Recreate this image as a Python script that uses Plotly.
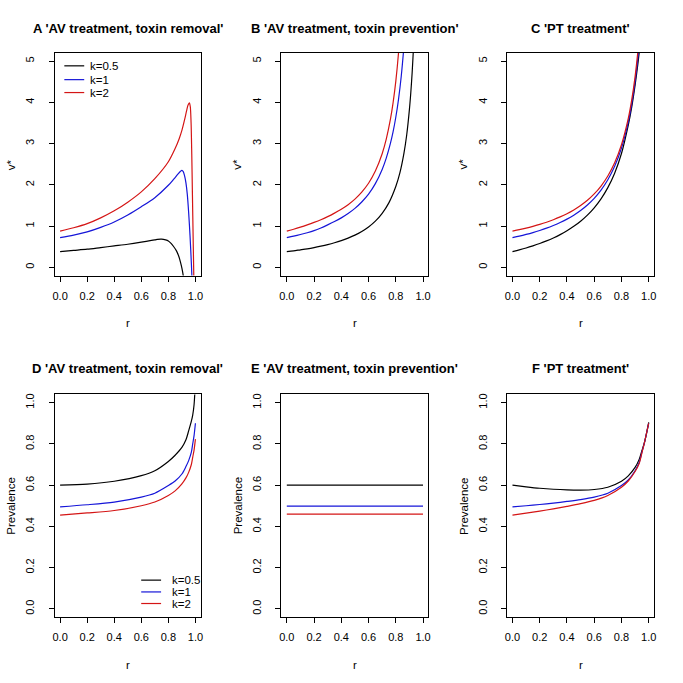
import plotly.graph_objects as go

W = H = 683

# ---------------- data ----------------
k_labels = ["k=0.5", "k=1", "k=2"]
colors = ["#000000", "#1515d8", "#d41515"]

# Panel A: AV treatment, toxin removal  (v*)
A_r05 = [0, 0.1, 0.2, 0.3, 0.4, 0.5, 0.6, 0.7, 0.72, 0.75, 0.78, 0.8, 0.82, 0.84, 0.86, 0.88, 0.89, 0.9, 0.91, 0.92]
A_v05 = [0.38, 0.41, 0.44, 0.48, 0.52, 0.56, 0.61, 0.665, 0.68, 0.685, 0.665, 0.64, 0.58, 0.50, 0.40, 0.24, 0.12, -0.02, -0.20, -0.45]
A_r1 = [0, 0.1, 0.2, 0.3, 0.4, 0.5, 0.6, 0.7, 0.8, 0.84, 0.87, 0.89, 0.9, 0.91, 0.92, 0.93, 0.94, 0.95, 0.96, 0.97, 0.98]
A_v1 = [0.72, 0.78, 0.86, 0.97, 1.10, 1.27, 1.47, 1.69, 1.99, 2.14, 2.26, 2.33, 2.35, 2.32, 2.22, 2.05, 1.77, 1.33, 0.78, 0.10, -0.70]
A_r2 = [0, 0.1, 0.2, 0.3, 0.4, 0.5, 0.6, 0.7, 0.8, 0.85, 0.88, 0.9, 0.92, 0.935, 0.945, 0.955, 0.962, 0.968, 0.973, 0.978, 0.983, 0.988, 0.993]
A_v2 = [0.88, 0.96, 1.06, 1.20, 1.37, 1.58, 1.83, 2.15, 2.56, 2.88, 3.12, 3.32, 3.58, 3.80, 3.93, 3.99, 3.90, 3.50, 2.75, 1.75, 0.74, -0.20, -1.20]

# Panel B: AV treatment, toxin prevention (v*)
B_r05 = [0, 0.05, 0.1, 0.15, 0.2, 0.25, 0.3, 0.35, 0.4, 0.45, 0.5, 0.55, 0.6, 0.65, 0.7, 0.75, 0.8, 0.83, 0.86, 0.88, 0.9, 0.91, 0.92, 0.93, 0.94]
B_v05 = [0.38, 0.40, 0.425, 0.45, 0.48, 0.515, 0.553, 0.597, 0.648, 0.709, 0.781, 0.87, 0.98, 1.12, 1.31, 1.57, 1.96, 2.29, 2.77, 3.21, 3.83, 4.23, 4.72, 5.34, 6.15]
B_r1 = [0, 0.05, 0.1, 0.15, 0.2, 0.25, 0.3, 0.35, 0.4, 0.45, 0.5, 0.55, 0.6, 0.65, 0.7, 0.73, 0.76, 0.78, 0.8, 0.82, 0.84, 0.86, 0.87]
B_v1 = [0.72, 0.756, 0.796, 0.84, 0.891, 0.955, 1.03, 1.11, 1.20, 1.305, 1.43, 1.585, 1.775, 2.03, 2.375, 2.65, 3.0, 3.285, 3.64, 4.075, 4.635, 5.375, 5.84]
B_r2 = [0, 0.05, 0.1, 0.15, 0.2, 0.25, 0.3, 0.35, 0.4, 0.45, 0.5, 0.55, 0.6, 0.65, 0.7, 0.73, 0.76, 0.78, 0.8, 0.82, 0.84]
B_v2 = [0.88, 0.925, 0.975, 1.03, 1.09, 1.155, 1.23, 1.315, 1.41, 1.52, 1.655, 1.825, 2.04, 2.335, 2.755, 3.11, 3.58, 3.99, 4.51, 5.2, 6.15]

# Panel C: PT treatment (v*)
C_r = [0, 0.05, 0.1, 0.15, 0.2, 0.25, 0.3, 0.35, 0.4, 0.45, 0.5, 0.55, 0.6, 0.65, 0.7, 0.75, 0.8, 0.85, 0.875, 0.9, 0.92, 0.94]
C_v05 = [0.38, 0.423, 0.469, 0.52, 0.577, 0.641, 0.713, 0.794, 0.887, 0.994, 1.119, 1.267, 1.445, 1.662, 1.934, 2.284, 2.76, 3.45, 3.88, 4.42, 4.92, 5.5]
C_v1 = [0.72, 0.757, 0.798, 0.843, 0.894, 0.95, 1.014, 1.086, 1.169, 1.265, 1.378, 1.512, 1.673, 1.872, 2.123, 2.449, 2.89, 3.52, 3.95, 4.50, 5.06, 5.78]
C_v2 = [0.88, 0.914, 0.952, 0.995, 1.042, 1.095, 1.155, 1.223, 1.301, 1.392, 1.499, 1.626, 1.781, 1.972, 2.216, 2.535, 2.973, 3.611, 4.054, 4.626, 5.223, 6.0]

# Panel D: AV treatment, toxin removal (prevalence)
D_r = [0, 0.2, 0.4, 0.6, 0.7, 0.8, 0.85, 0.9, 0.93, 0.95, 0.97, 0.98, 0.99, 1.0]
D_p05 = [0.600, 0.605, 0.619, 0.646, 0.670, 0.715, 0.745, 0.783, 0.820, 0.863, 0.910, 0.940, 0.990, 1.100]
D_p1 = [0.495, 0.505, 0.518, 0.542, 0.561, 0.598, 0.620, 0.654, 0.690, 0.719, 0.760, 0.800, 0.840, 0.900]
D_p2 = [0.455, 0.465, 0.477, 0.500, 0.518, 0.550, 0.572, 0.606, 0.635, 0.662, 0.700, 0.735, 0.770, 0.823]

# Panel E: AV treatment, toxin prevention (prevalence)
E_r = [0, 1]
E_p05 = [0.600, 0.600]
E_p1 = [0.498, 0.498]
E_p2 = [0.459, 0.459]

# Panel F: PT treatment (prevalence)
F_r = [0, 0.1, 0.2, 0.3, 0.4, 0.5, 0.6, 0.7, 0.8, 0.85, 0.9, 0.93, 0.95, 0.97, 0.99, 1.0]
F_p05 = [0.600, 0.592, 0.585, 0.580, 0.577, 0.576, 0.579, 0.590, 0.619, 0.645, 0.686, 0.725, 0.767, 0.810, 0.870, 0.904]
F_p1 = [0.495, 0.500, 0.506, 0.513, 0.521, 0.530, 0.542, 0.561, 0.598, 0.625, 0.670, 0.710, 0.759, 0.810, 0.870, 0.900]
F_p2 = [0.455, 0.464, 0.474, 0.485, 0.497, 0.510, 0.526, 0.550, 0.590, 0.620, 0.666, 0.705, 0.756, 0.810, 0.870, 0.900]

titles = ["A 'AV treatment, toxin removal'", "B 'AV treatment, toxin prevention'", "C 'PT treatment'",
          "D 'AV treatment, toxin removal'", "E 'AV treatment, toxin prevention'", "F 'PT treatment'"]
x_ticks = [0, 0.2, 0.4, 0.6, 0.8, 1.0]
x_ticktext = ["0.0", "0.2", "0.4", "0.6", "0.8", "1.0"]
v_ticks = [0, 1, 2, 3, 4, 5]
v_ticktext = ["0", "1", "2", "3", "4", "5"]
p_ticks = [0, 0.2, 0.4, 0.6, 0.8, 1.0]
p_ticktext = ["0.0", "0.2", "0.4", "0.6", "0.8", "1.0"]

panels = [
    [(A_r05, A_v05), (A_r1, A_v1), (A_r2, A_v2)],
    [(B_r05, B_v05), (B_r1, B_v1), (B_r2, B_v2)],
    [(C_r, C_v05), (C_r, C_v1), (C_r, C_v2)],
    [(D_r, D_p05), (D_r, D_p1), (D_r, D_p2)],
    [(E_r, E_p05), (E_r, E_p1), (E_r, E_p2)],
    [(F_r, F_p05), (F_r, F_p1), (F_r, F_p2)],
]

# ---------------- layout geometry (pixels) ----------------
col_px = [(53, 200), (281, 429), (508, 656)]
row_px = [(52, 275), (394, 617)]

FONT = "Liberation Sans, Arial, Helvetica, sans-serif"
fig = go.Figure()
layout = dict(width=W, height=H, margin=dict(l=0, r=0, t=0, b=0),
              paper_bgcolor="white", plot_bgcolor="white", showlegend=False,
              font=dict(family=FONT, size=11, color="black"))
annotations = []
shapes = []

for i, series in enumerate(panels):
    row, col = divmod(i, 3)
    n = i + 1
    xa = "x" if n == 1 else f"x{n}"
    ya = "y" if n == 1 else f"y{n}"
    for (rr, vv), c, lab in zip(series, colors, k_labels):
        fig.add_trace(go.Scatter(x=rr, y=vv, mode="lines", name=lab,
                                 line=dict(color=c, width=1.2, shape="spline", smoothing=0.8),
                                 xaxis=xa, yaxis=ya, hoverinfo="skip"))
    x0, x1 = col_px[col]
    y0, y1 = row_px[row]
    common = dict(showline=True, mirror=True, linecolor="black", linewidth=1,
                  ticks="outside", ticklen=5, tickwidth=1, tickcolor="black",
                  showgrid=False, zeroline=False, tickfont=dict(size=11, family=FONT))
    layout["xaxis" if n == 1 else f"xaxis{n}"] = dict(
        domain=[x0 / W, x1 / W], range=[-0.04, 1.04], tickvals=x_ticks, ticktext=x_ticktext,
        anchor=ya, ticklabelstandoff=5, **common)
    if row == 0:
        yr, tv, tt = [-0.2, 5.2], v_ticks, v_ticktext
    else:
        yr, tv, tt = [-0.04, 1.04], p_ticks, p_ticktext
    layout["yaxis" if n == 1 else f"yaxis{n}"] = dict(
        domain=[1 - y1 / H, 1 - y0 / H], range=yr, tickvals=tv, ticktext=tt,
        anchor=xa, tickangle=-90, ticklabelstandoff=10, **common)
    # panel title
    annotations.append(dict(text=titles[i], xref="paper", yref="paper",
                            x=(x0 + x1) / 2 / W, y=1 - (28 + row * 340.5) / H,
                            xanchor="center", yanchor="middle", showarrow=False,
                            font=dict(size=13, family=FONT, weight="bold")))
    # axis titles
    annotations.append(dict(text="r", xref="paper", yref="paper",
                            x=(x0 + x1) / 2 / W, y=1 - (y1 + 47.5) / H,
                            xanchor="center", yanchor="middle", showarrow=False,
                            font=dict(size=11.5, family=FONT)))
    annotations.append(dict(text="v*" if row == 0 else "Prevalence", xref="paper", yref="paper",
                            x=(x0 - 44) / W, y=1 - (y0 + y1) / 2 / H, textangle=-90,
                            xanchor="center", yanchor="middle", showarrow=False,
                            font=dict(size=11.5, family=FONT)))

# manual legends (panel A top-left, panel D bottom-right)
legend_specs = [("x domain", "y domain", 0.066, 0.202, 0.229, [0.942, 0.880, 0.822]),
                ("x4 domain", "y4 domain", 0.592, 0.728, 0.789, [0.166, 0.113, 0.061])]
for xr, yr_, lx0, lx1, tx, ys in legend_specs:
    for c, lab, yy in zip(colors, k_labels, ys):
        shapes.append(dict(type="line", xref=xr, yref=yr_, x0=lx0, x1=lx1, y0=yy, y1=yy,
                           line=dict(color=c, width=1.2)))
        annotations.append(dict(text=lab, xref=xr, yref=yr_, x=tx, y=yy, xanchor="left",
                                yanchor="middle", showarrow=False,
                                font=dict(size=11.5, family=FONT)))

layout["annotations"] = annotations
layout["shapes"] = shapes
fig.update_layout(**layout)
fig.write_html("out.html", config={"displayModeBar": False},
               post_script="document.body.style.margin='0px';document.body.style.padding='0px';")
